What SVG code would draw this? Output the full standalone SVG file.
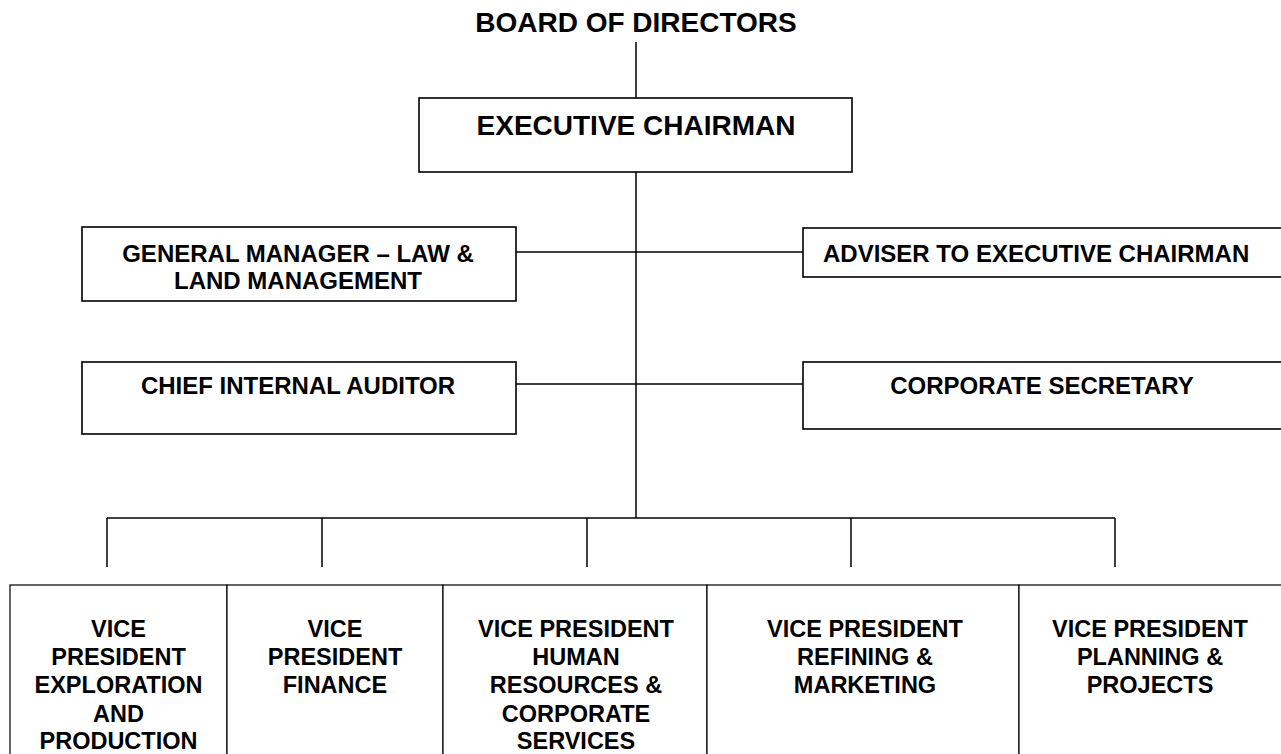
<svg xmlns="http://www.w3.org/2000/svg" width="1281" height="754" viewBox="0 0 1281 754">
<style>
.box{fill:#fff;stroke:#000;stroke-width:1.6}
.cell{fill:#fff;stroke:#000;stroke-width:1.2}
.ln{stroke:#000;stroke-width:1.5;fill:none}
text{font-family:"Liberation Sans",Arial,sans-serif;font-weight:bold;fill:#000}
.t28{font-size:28px;text-anchor:middle}
.t24{font-size:24px;text-anchor:middle}
.t23{font-size:23.5px;text-anchor:middle}
</style>
<rect width="1281" height="754" fill="#fff"/>
<g id="connectors">
<line class="ln" x1="636" y1="42" x2="636" y2="98"/>
<line class="ln" x1="636" y1="172" x2="636" y2="518"/>
<line class="ln" x1="516" y1="252" x2="803" y2="252"/>
<line class="ln" x1="516" y1="384" x2="803" y2="384"/>
<line class="ln" x1="107" y1="518" x2="1115" y2="518"/>
<line class="ln" x1="107" y1="518" x2="107" y2="567"/>
<line class="ln" x1="322" y1="518" x2="322" y2="567"/>
<line class="ln" x1="587" y1="518" x2="587" y2="567"/>
<line class="ln" x1="851" y1="518" x2="851" y2="567"/>
<line class="ln" x1="1115" y1="518" x2="1115" y2="567"/>
</g>
<g id="board">
<text class="t28" x="636" y="32">BOARD OF DIRECTORS</text>
</g>
<g id="exec">
<rect class="box" x="419" y="98" width="433" height="74"/>
<text class="t28" x="636" y="135">EXECUTIVE CHAIRMAN</text>
</g>
<g id="gm">
<rect class="box" x="82" y="227" width="434" height="74"/>
<text class="t24" x="298" y="262">GENERAL MANAGER – LAW &amp;</text>
<text class="t24" x="298" y="289">LAND MANAGEMENT</text>
</g>
<g id="auditor">
<rect class="box" x="82" y="362" width="434" height="72"/>
<text class="t24" x="298" y="394">CHIEF INTERNAL AUDITOR</text>
</g>
<g id="adviser">
<rect class="box" x="803" y="228" width="490" height="49"/>
<text x="823" y="262" style="font-size:24px">ADVISER TO EXECUTIVE CHAIRMAN</text>
</g>
<g id="secretary">
<rect class="box" x="803" y="362" width="490" height="67"/>
<text class="t24" x="1042" y="394">CORPORATE SECRETARY</text>
</g>
<g id="vp-exploration">
<rect class="cell" x="10" y="585" width="217" height="180"/>
<text class="t23" x="118.5" y="637">VICE</text>
<text class="t23" x="118.5" y="665">PRESIDENT</text>
<text class="t23" x="118.5" y="693">EXPLORATION</text>
<text class="t23" x="118.5" y="722">AND</text>
<text class="t23" x="118.5" y="749">PRODUCTION</text>
</g>
<g id="vp-finance">
<rect class="cell" x="227" y="585" width="216" height="180"/>
<text class="t23" x="335" y="637">VICE</text>
<text class="t23" x="335" y="665">PRESIDENT</text>
<text class="t23" x="335" y="693">FINANCE</text>
</g>
<g id="vp-hr">
<rect class="cell" x="443" y="585" width="264" height="180"/>
<text class="t23" x="576" y="637">VICE PRESIDENT</text>
<text class="t23" x="576" y="665">HUMAN</text>
<text class="t23" x="576" y="693">RESOURCES &amp;</text>
<text class="t23" x="576" y="722">CORPORATE</text>
<text class="t23" x="576" y="749">SERVICES</text>
</g>
<g id="vp-refining">
<rect class="cell" x="707" y="585" width="312" height="180"/>
<text class="t23" x="865" y="637">VICE PRESIDENT</text>
<text class="t23" x="865" y="665">REFINING &amp;</text>
<text class="t23" x="865" y="693">MARKETING</text>
</g>
<g id="vp-planning">
<rect class="cell" x="1019" y="585" width="280" height="180"/>
<text class="t23" x="1150" y="637">VICE PRESIDENT</text>
<text class="t23" x="1150" y="665">PLANNING &amp;</text>
<text class="t23" x="1150" y="693">PROJECTS</text>
</g>
</svg>
